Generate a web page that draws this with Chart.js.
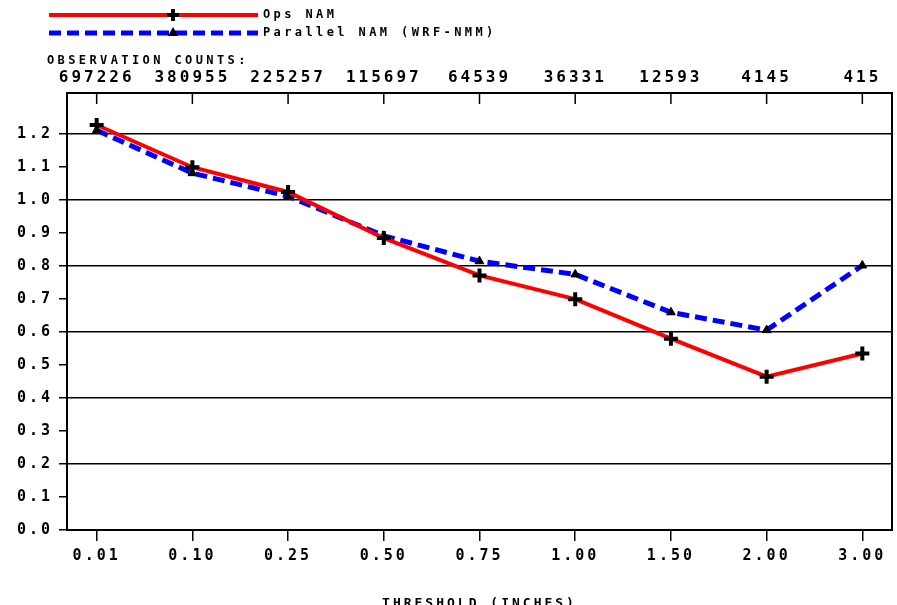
<!DOCTYPE html>
<html>
<head>
<meta charset="utf-8">
<script src="https://cdn.jsdelivr.net/npm/chart.js@4/dist/chart.umd.min.js"></script>
<style>
  html, body { margin: 0; padding: 0; background: #fff; overflow: hidden; }
  /* canvas is a few px wider than the window so the plot frame ends near x=892 */
  #wrap { width: 903px; height: 605px; }
</style>
</head>
<body>
<div id="wrap"><canvas id="chart"></canvas></div>
<script>
const thresholds = ['0.01', '0.10', '0.25', '0.50', '0.75', '1.00', '1.50', '2.00', '3.00'];
const obsCounts = ['697226', '380955', '225257', '115697', '64539', '36331', '12593', '4145', '415'];
const opsNam = [1.228, 1.100, 1.025, 0.885, 0.772, 0.700, 0.580, 0.465, 0.535];
const parallelNam = [1.212, 1.082, 1.012, 0.892, 0.815, 0.775, 0.660, 0.606, 0.802];
const yTicks = [0.0, 0.1, 0.2, 0.3, 0.4, 0.5, 0.6, 0.7, 0.8, 0.9, 1.0, 1.1, 1.2];
const seriesNames = ['Ops NAM', 'Parallel NAM (WRF-NMM)'];

const FONT_FAMILY = "'DejaVu Sans Mono', monospace";
const tickFont = { family: FONT_FAMILY, size: 15, weight: 'bold' };
const countFont = { family: FONT_FAMILY, size: 16, weight: 'bold' };

const toPoints = arr => arr.map((v, i) => ({ x: i, y: v }));
const catTicks = s => { s.ticks = thresholds.map((_, i) => ({ value: i })); };
const fitX = h => s => { s.height = h; s.paddingLeft = 0; s.paddingRight = 0; };

const framePlugin = {
  id: 'frame',
  beforeDraw(chart) {
    chart.ctx.letterSpacing = '3px';
  },
  afterDraw(chart) {
    const ctx = chart.ctx;
    const a = chart.chartArea;
    const x2 = chart.scales.x2;
    ctx.save();
    ctx.strokeStyle = '#000';
    ctx.lineWidth = 2;
    ctx.strokeRect(a.left, a.top, a.right - a.left, a.bottom - a.top);

    // inward ticks on the top axis
    ctx.lineWidth = 1.5;
    x2.ticks.forEach(t => {
      const px = x2.getPixelForValue(t.value);
      ctx.beginPath();
      ctx.moveTo(px, a.top);
      ctx.lineTo(px, a.top + 11);
      ctx.stroke();
    });

    // legend
    ctx.letterSpacing = '3.4px';
    ctx.font = "bold 12px " + FONT_FAMILY;
    ctx.textBaseline = 'middle';
    ctx.textAlign = 'left';
    ctx.fillStyle = '#000';
    const lx0 = 49, lx1 = 258, mx = 173;
    // Ops NAM
    ctx.strokeStyle = '#ff0000';
    ctx.lineWidth = 4;
    ctx.setLineDash([]);
    ctx.beginPath(); ctx.moveTo(lx0, 15); ctx.lineTo(lx1, 15); ctx.stroke();
    ctx.strokeStyle = '#000';
    ctx.lineWidth = 4;
    ctx.beginPath();
    ctx.moveTo(mx - 6, 15); ctx.lineTo(mx + 6, 15);
    ctx.moveTo(mx, 9); ctx.lineTo(mx, 21);
    ctx.stroke();
    ctx.fillText(seriesNames[0], 263, 15);
    // Parallel NAM
    ctx.strokeStyle = '#0000ff';
    ctx.lineWidth = 5;
    ctx.setLineDash([12, 6]);
    ctx.beginPath(); ctx.moveTo(lx0, 33); ctx.lineTo(lx1, 33); ctx.stroke();
    ctx.setLineDash([]);
    ctx.beginPath();
    ctx.moveTo(mx, 27); ctx.lineTo(mx + 5, 36); ctx.lineTo(mx - 5, 36); ctx.closePath();
    ctx.fill();
    ctx.fillText(seriesNames[1], 263, 33);

    ctx.fillText('OBSERVATION COUNTS:', 47, 61);

    // x axis title
    ctx.font = "bold 13px " + FONT_FAMILY;
    ctx.letterSpacing = '3px';
    ctx.textAlign = 'center';
    ctx.fillText('THRESHOLD (INCHES)', (a.left + a.right) / 2, 604);
    ctx.restore();
  }
};

new Chart(document.getElementById('chart'), {
  type: 'line',
  data: {
    datasets: [
      {
        label: seriesNames[0],
        data: toPoints(opsNam),
        borderColor: '#ff0000',
        borderWidth: 4,
        pointStyle: 'cross',
        pointRadius: 7,
        pointBorderWidth: 4,
        pointBorderColor: '#000',
        pointBackgroundColor: '#000',
        tension: 0
      },
      {
        label: seriesNames[1],
        data: toPoints(parallelNam),
        borderColor: '#0000ff',
        borderWidth: 5,
        borderDash: [12, 6],
        pointStyle: 'triangle',
        pointRadius: 5,
        pointBorderWidth: 1,
        pointBorderColor: '#000',
        pointBackgroundColor: '#000',
        tension: 0
      }
    ]
  },
  options: {
    responsive: true,
    maintainAspectRatio: false,
    animation: false,
    layout: { padding: 0 },
    plugins: { legend: { display: false }, tooltip: { enabled: false } },
    scales: {
      x: {
        type: 'linear',
        position: 'bottom',
        min: -0.31,
        max: 8.31,
        afterBuildTicks: catTicks,
        afterFit: fitX(75),
        border: { display: false },
        grid: { drawOnChartArea: false, tickLength: 11, color: '#000', tickColor: '#000', lineWidth: 1.5 },
        ticks: {
          autoSkip: false, maxRotation: 0, padding: 6,
          color: '#000', font: tickFont,
          callback: v => thresholds[v]
        }
      },
      x2: {
        type: 'linear',
        position: 'top',
        min: -0.31,
        max: 8.31,
        afterBuildTicks: catTicks,
        afterFit: fitX(93),
        border: { display: false },
        grid: { display: false },
        ticks: {
          autoSkip: false, maxRotation: 0, padding: -2,
          color: '#000', font: countFont,
          callback: v => obsCounts[v]
        }
      },
      y: {
        min: 0,
        max: 1.325,
        afterBuildTicks: s => { s.ticks = yTicks.map(v => ({ value: v })); },
        afterFit: s => { s.width = 67; s.paddingTop = 0; s.paddingBottom = 0; },
        border: { display: false },
        grid: {
          color: ctx => (Math.round(ctx.tick.value * 10) % 2 === 0 ? '#000' : 'rgba(0,0,0,0)'),
          tickColor: '#000',
          tickLength: 8,
          lineWidth: 1.5
        },
        ticks: {
          padding: 6, color: '#000', font: tickFont,
          callback: v => v.toFixed(1)
        }
      }
    }
  },
  plugins: [framePlugin]
});
</script>
</body>
</html>
